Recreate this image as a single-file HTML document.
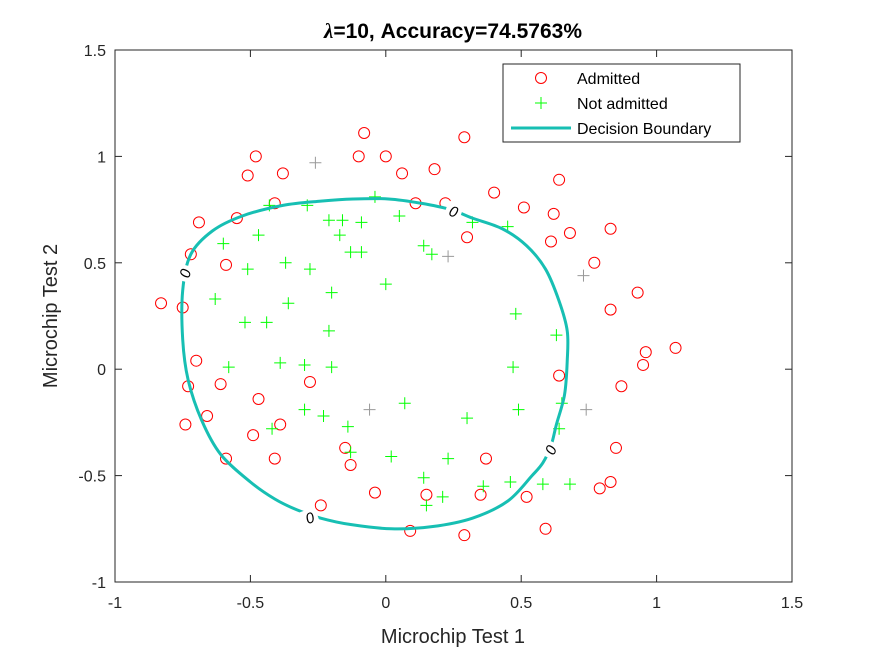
<!DOCTYPE html>
<html><head><meta charset="utf-8"><style>
body{margin:0;background:#fff;}
svg text{font-family:"Liberation Sans",Arial,sans-serif;}
</style></head><body>
<svg id="chart" width="875" height="656" viewBox="0 0 875 656" xmlns="http://www.w3.org/2000/svg">
<rect x="0" y="0" width="875" height="656" fill="#fff"/>
<rect x="115" y="50" width="677" height="532" fill="#fff" stroke="#262626" stroke-width="1"/>
<g id="grid"></g>
<g id="marks"></g>
<text x="453" y="38" text-anchor="middle" font-size="21" font-weight="bold" fill="#000"><tspan font-style="italic" font-family="Liberation Serif, serif">λ</tspan>=10, Accuracy=74.5763%</text>
<text x="453" y="643" text-anchor="middle" font-size="20" fill="#262626">Microchip Test 1</text>
<text transform="translate(57,316) rotate(-90)" text-anchor="middle" font-size="20" fill="#262626">Microchip Test 2</text>
<g>
<rect x="503" y="64" width="237" height="78" fill="#fff" stroke="#262626" stroke-width="1"/>
<circle cx="541" cy="78" r="5.5" fill="none" stroke="#f00" stroke-width="1"/>
<text x="577" y="84" font-size="16" fill="#000">Admitted</text>
<path d="M535 103 h12 M541 97 v12" stroke="#0f0" stroke-width="1"/>
<text x="577" y="109" font-size="16" fill="#000">Not admitted</text>
<line x1="511" y1="128" x2="571" y2="128" stroke="#17bfb3" stroke-width="3"/>
<text x="577" y="134" font-size="16" fill="#000">Decision Boundary</text>
</g>
</svg>
<script>
const xTicks=[-1,-0.5,0,0.5,1,1.5];
const yTicks=[-1,-0.5,0,0.5,1,1.5];
const admX=[-0.08,0.29,-0.48,0.00,-0.10,-0.51,-0.38,0.06,0.18,0.64,0.40,0.51,-0.41,-0.55,-0.69,0.11,0.22,0.62,0.68,0.61,0.30,-0.72,-0.59,0.83,0.77,-0.83,-0.75,0.93,0.83,0.96,1.07,0.95,-0.70,-0.61,0.64,-0.28,0.87,-0.47,-0.73,-0.66,-0.74,-0.39,-0.49,-0.15,-0.13,-0.59,-0.41,0.37,-0.04,-0.24,0.52,0.59,0.09,0.29,0.79,0.83,0.85,0.35,0.15];
const admY=[1.11,1.09,1.00,1.00,1.00,0.91,0.92,0.92,0.94,0.89,0.83,0.76,0.78,0.71,0.69,0.78,0.78,0.73,0.64,0.60,0.62,0.54,0.49,0.66,0.50,0.31,0.29,0.36,0.28,0.08,0.10,0.02,0.04,-0.07,-0.03,-0.06,-0.08,-0.14,-0.08,-0.22,-0.26,-0.26,-0.31,-0.37,-0.45,-0.42,-0.42,-0.42,-0.58,-0.64,-0.60,-0.75,-0.76,-0.78,-0.56,-0.53,-0.37,-0.59,-0.59];
const notX=[-0.43,-0.29,-0.21,-0.16,-0.09,-0.04,0.05,-0.60,-0.47,-0.17,-0.09,-0.13,0.14,0.17,0.32,0.45,-0.51,-0.37,-0.28,-0.63,-0.36,-0.20,-0.52,-0.44,0.00,-0.21,-0.58,-0.39,-0.30,-0.20,0.48,0.63,0.47,0.49,0.65,-0.30,-0.23,-0.14,0.07,-0.13,0.02,0.14,0.30,0.23,0.21,0.15,0.36,0.46,0.58,0.68,0.64,-0.42];
const notY=[0.77,0.77,0.70,0.70,0.69,0.81,0.72,0.59,0.63,0.63,0.55,0.55,0.58,0.54,0.69,0.67,0.47,0.50,0.47,0.33,0.31,0.36,0.22,0.22,0.40,0.18,0.01,0.03,0.02,0.01,0.26,0.16,0.01,-0.19,-0.16,-0.19,-0.22,-0.27,-0.16,-0.39,-0.41,-0.51,-0.23,-0.42,-0.60,-0.64,-0.55,-0.53,-0.54,-0.54,-0.28,-0.28];
const grayX=[-0.26,-0.06,0.73,0.74,0.23];
const grayY=[0.97,-0.19,0.44,-0.19,0.53];
const bndX=[-0.75,-0.72,-0.64,-0.53,-0.38,-0.24,-0.12,0.01,0.13,0.24,0.32,0.43,0.52,0.59,0.64,0.67,0.67,0.66,0.63,0.61,0.58,0.54,0.45,0.32,0.17,0.02,-0.13,-0.24,-0.33,-0.41,-0.50,-0.61,-0.68,-0.73,-0.75];
const bndY=[0.37,0.54,0.65,0.72,0.77,0.79,0.80,0.80,0.78,0.75,0.71,0.66,0.58,0.47,0.32,0.18,0.04,-0.12,-0.26,-0.36,-0.44,-0.50,-0.62,-0.70,-0.74,-0.75,-0.73,-0.70,-0.66,-0.61,-0.53,-0.40,-0.24,-0.05,0.14];
const lblX=[0.25,-0.74,0.61,-0.28];
const lblY=[0.74,0.45,-0.38,-0.70];
const lblRot=[20,-75,-65,-20];

const NS="http://www.w3.org/2000/svg";
const sx=v=>115+(v+1)/2.5*677;
const sy=v=>582-(v+1)/2.5*532;
const grid=document.getElementById('grid'), marks=document.getElementById('marks');
function mk(tag,attrs,parent){const e=document.createElementNS(NS,tag);for(const k in attrs)e.setAttribute(k,attrs[k]);parent.appendChild(e);return e;}
xTicks.forEach(t=>{
  const l=mk('line',{x1:sx(t),x2:sx(t),y1:582,y2:575,stroke:'#262626'},grid);
  
  
  const l2=mk('line',{x1:sx(t),x2:sx(t),y1:50,y2:57,stroke:'#262626'},grid);
  
  
  const tx=mk('text',{x:sx(t),y:608,'text-anchor':'middle','font-size':'16',fill:'#262626'},grid);
  tx.textContent=String(t);
  
  
});
yTicks.forEach(t=>{
  const l=mk('line',{x1:115,x2:122,y1:sy(t),y2:sy(t),stroke:'#262626'},grid);
  
  
  const l2=mk('line',{x1:792,x2:785,y1:sy(t),y2:sy(t),stroke:'#262626'},grid);
  
  
  const tx=mk('text',{x:106,y:sy(t)+6,'text-anchor':'end','font-size':'16',fill:'#262626'},grid);
  tx.textContent=String(t);
  
  
});
admX.forEach((x,i)=>{
  const c=mk('circle',{cx:sx(x),cy:sy(admY[i]),r:5.5,fill:'none',stroke:'#f00','stroke-width':1},marks);
  
  
});
function plus(x,y,col){const X=sx(x),Y=sy(y);return mk('path',{d:`M${X-6} ${Y} h12 M${X} ${Y-6} v12`,stroke:col,'stroke-width':1},marks);}
notX.forEach((x,i)=>{
  const p=plus(x,notY[i],'#0f0');
  
  
});
grayX.forEach((x,i)=>{
  const p=plus(x,grayY[i],'#999');
  
  
});
const P=bndX.map((x,i)=>[sx(x),sy(bndY[i])]);
const n=P.length;let d=`M${P[0][0]} ${P[0][1]}`;
for(let i=0;i<n;i++){const p0=P[(i-1+n)%n],p1=P[i],p2=P[(i+1)%n],p3=P[(i+2)%n];
  d+=` C${p1[0]+(p2[0]-p0[0])/6} ${p1[1]+(p2[1]-p0[1])/6} ${p2[0]-(p3[0]-p1[0])/6} ${p2[1]-(p3[1]-p1[1])/6} ${p2[0]} ${p2[1]}`;}
const b=mk('path',{d:d,fill:'none',stroke:'#17bfb3','stroke-width':3},marks);


lblX.forEach((x,i)=>{
  const g=mk('g',{transform:`translate(${sx(x)},${sy(lblY[i])}) rotate(${lblRot[i]})`},marks);
  
  
  mk('rect',{x:-8,y:-9,width:16,height:18,fill:'#fff'},g);
  const t=mk('text',{x:0,y:5,'text-anchor':'middle','font-size':'15','font-style':'italic',fill:'#000'},g);
  t.textContent='0';
});
</script>
</body></html>
